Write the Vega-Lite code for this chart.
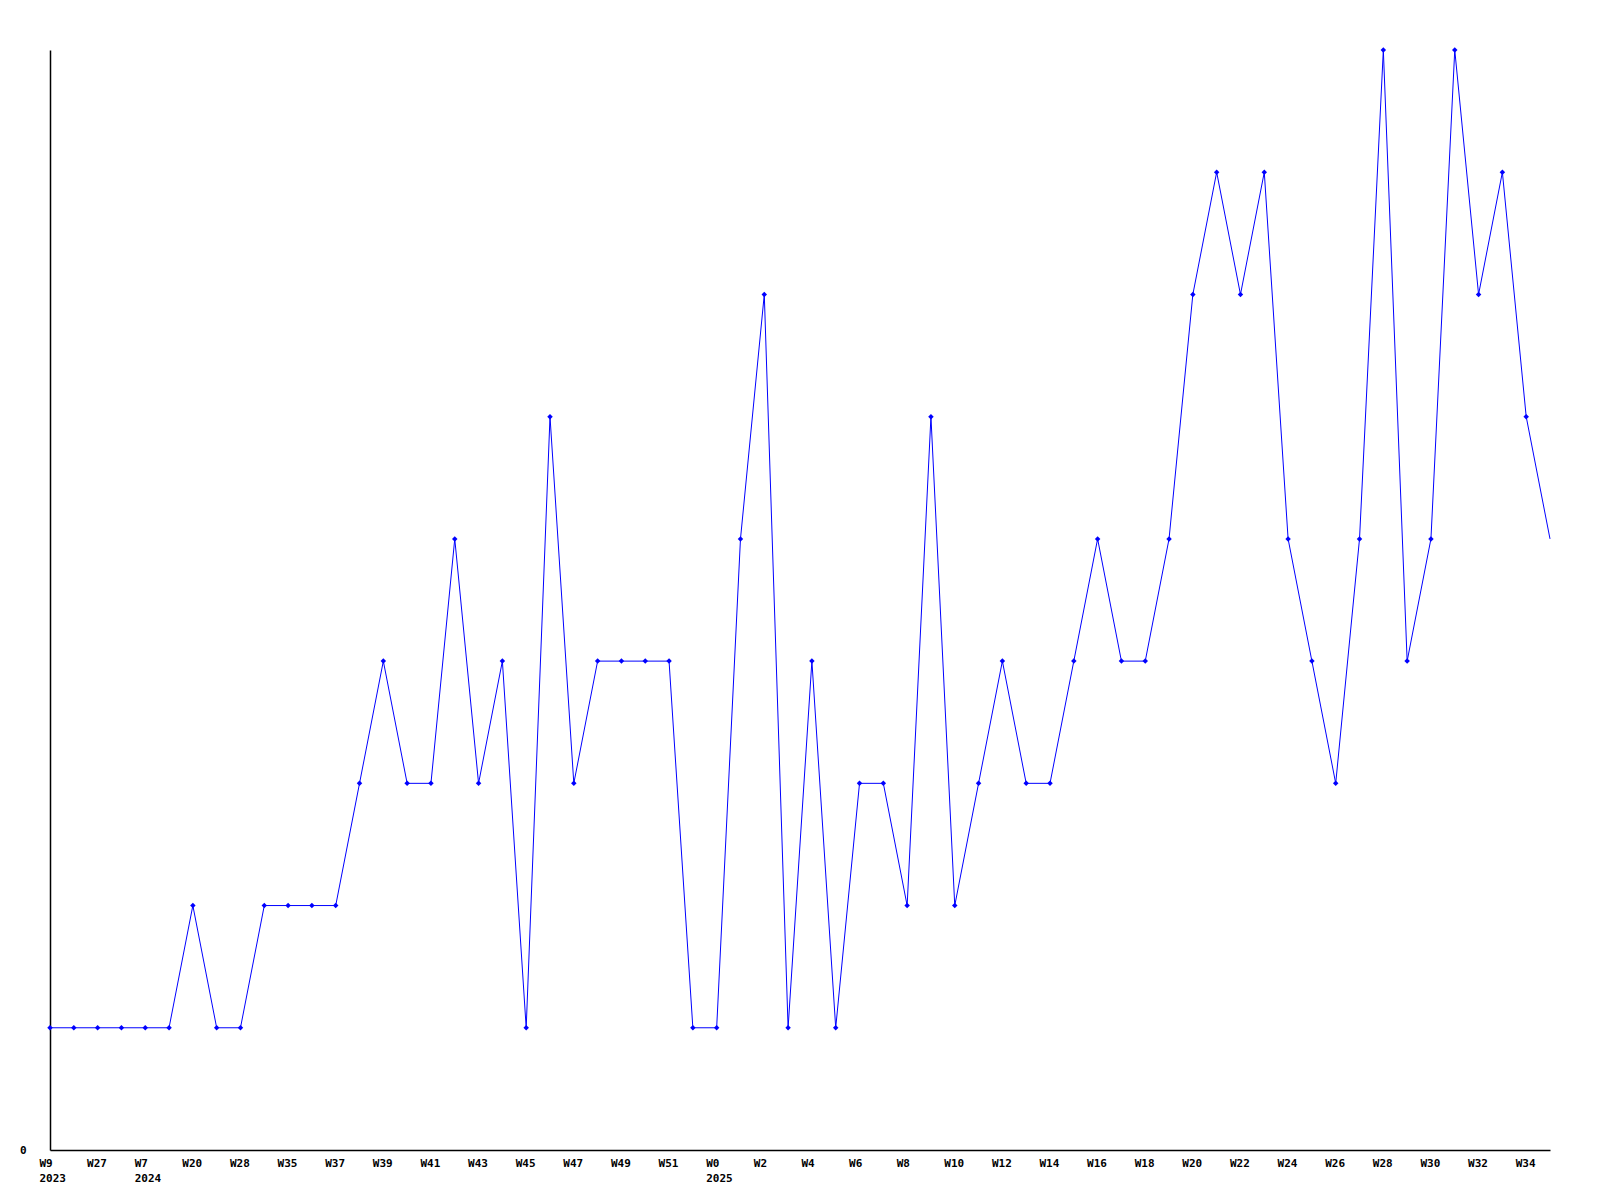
{
  "$schema": "https://vega.github.io/schema/vega-lite/v6.json",
  "width": 1500,
  "height": 1100,
  "autosize": {"type": "none"},
  "padding": {"left": 50, "top": 50, "right": 50, "bottom": 50},
  "background": "white",
  "config": {"view": {"stroke": null}},
  "data": {
    "values": [
      {"week": "2023 W9", "count": 1},
      {"week": "2023 W18", "count": 1},
      {"week": "2023 W27", "count": 1},
      {"week": "2023 W40", "count": 1},
      {"week": "2024 W7", "count": 1},
      {"week": "2024 W13", "count": 1},
      {"week": "2024 W20", "count": 2},
      {"week": "2024 W24", "count": 1},
      {"week": "2024 W28", "count": 1},
      {"week": "2024 W32", "count": 2},
      {"week": "2024 W35", "count": 2},
      {"week": "2024 W36", "count": 2},
      {"week": "2024 W37", "count": 2},
      {"week": "2024 W38", "count": 3},
      {"week": "2024 W39", "count": 4},
      {"week": "2024 W40", "count": 3},
      {"week": "2024 W41", "count": 3},
      {"week": "2024 W42", "count": 5},
      {"week": "2024 W43", "count": 3},
      {"week": "2024 W44", "count": 4},
      {"week": "2024 W45", "count": 1},
      {"week": "2024 W46", "count": 6},
      {"week": "2024 W47", "count": 3},
      {"week": "2024 W48", "count": 4},
      {"week": "2024 W49", "count": 4},
      {"week": "2024 W50", "count": 4},
      {"week": "2024 W51", "count": 4},
      {"week": "2024 W52", "count": 1},
      {"week": "2025 W0", "count": 1},
      {"week": "2025 W1", "count": 5},
      {"week": "2025 W2", "count": 7},
      {"week": "2025 W3", "count": 1},
      {"week": "2025 W4", "count": 4},
      {"week": "2025 W5", "count": 1},
      {"week": "2025 W6", "count": 3},
      {"week": "2025 W7", "count": 3},
      {"week": "2025 W8", "count": 2},
      {"week": "2025 W9", "count": 6},
      {"week": "2025 W10", "count": 2},
      {"week": "2025 W11", "count": 3},
      {"week": "2025 W12", "count": 4},
      {"week": "2025 W13", "count": 3},
      {"week": "2025 W14", "count": 3},
      {"week": "2025 W15", "count": 4},
      {"week": "2025 W16", "count": 5},
      {"week": "2025 W17", "count": 4},
      {"week": "2025 W18", "count": 4},
      {"week": "2025 W19", "count": 5},
      {"week": "2025 W20", "count": 7},
      {"week": "2025 W21", "count": 8},
      {"week": "2025 W22", "count": 7},
      {"week": "2025 W23", "count": 8},
      {"week": "2025 W24", "count": 5},
      {"week": "2025 W25", "count": 4},
      {"week": "2025 W26", "count": 3},
      {"week": "2025 W27", "count": 5},
      {"week": "2025 W28", "count": 9},
      {"week": "2025 W29", "count": 4},
      {"week": "2025 W30", "count": 5},
      {"week": "2025 W31", "count": 9},
      {"week": "2025 W32", "count": 7},
      {"week": "2025 W33", "count": 8},
      {"week": "2025 W34", "count": 6},
      {"week": "2025 W35", "count": 5}
    ]
  },
  "encoding": {
    "x": {
      "field": "week",
      "type": "ordinal",
      "sort": null,
      "scale": {"type": "point", "padding": 0},
      "axis": {
        "title": null,
        "values": ["2023 W9", "2023 W27", "2024 W7", "2024 W20", "2024 W28", "2024 W35", "2024 W37", "2024 W39", "2024 W41", "2024 W43", "2024 W45", "2024 W47", "2024 W49", "2024 W51", "2025 W0", "2025 W2", "2025 W4", "2025 W6", "2025 W8", "2025 W10", "2025 W12", "2025 W14", "2025 W16", "2025 W18", "2025 W20", "2025 W22", "2025 W24", "2025 W26", "2025 W28", "2025 W30", "2025 W32", "2025 W34"],
        "labelExpr": "indexof(['2023 W9','2024 W7','2025 W0'], datum.value) >= 0 ? [substring(datum.value, 5), substring(datum.value, 0, 4)] : substring(datum.value, 5)",
        "labelAngle": 0,
        "labelAlign": "left",
        "labelBaseline": "top",
        "labelOffset": -11,
        "labelPadding": 7,
        "labelLineHeight": 15,
        "labelFont": "DejaVu Sans Mono",
        "labelFontWeight": "bold",
        "labelFontSize": 11,
        "labelColor": "black",
        "labelOverlap": false,
        "ticks": false,
        "domainColor": "black",
        "domainWidth": 1.5,
        "grid": false
      }
    },
    "y": {
      "field": "count",
      "type": "quantitative",
      "scale": {"domain": [0, 9], "nice": false, "zero": true},
      "axis": {
        "title": null,
        "values": [0],
        "ticks": false,
        "grid": false,
        "labelFont": "DejaVu Sans Mono",
        "labelFontWeight": "bold",
        "labelFontSize": 11,
        "labelColor": "black",
        "labelPadding": 24,
        "domainColor": "black",
        "domainWidth": 1.5
      }
    }
  },
  "layer": [
    {
      "mark": {"type": "line", "color": "#0000ff", "strokeWidth": 1}
    },
    {
      "transform": [{"filter": "datum.week != '2025 W35'"}],
      "mark": {"type": "point", "shape": "diamond", "filled": true, "color": "#0000ff", "size": 30, "opacity": 1}
    }
  ]
}
